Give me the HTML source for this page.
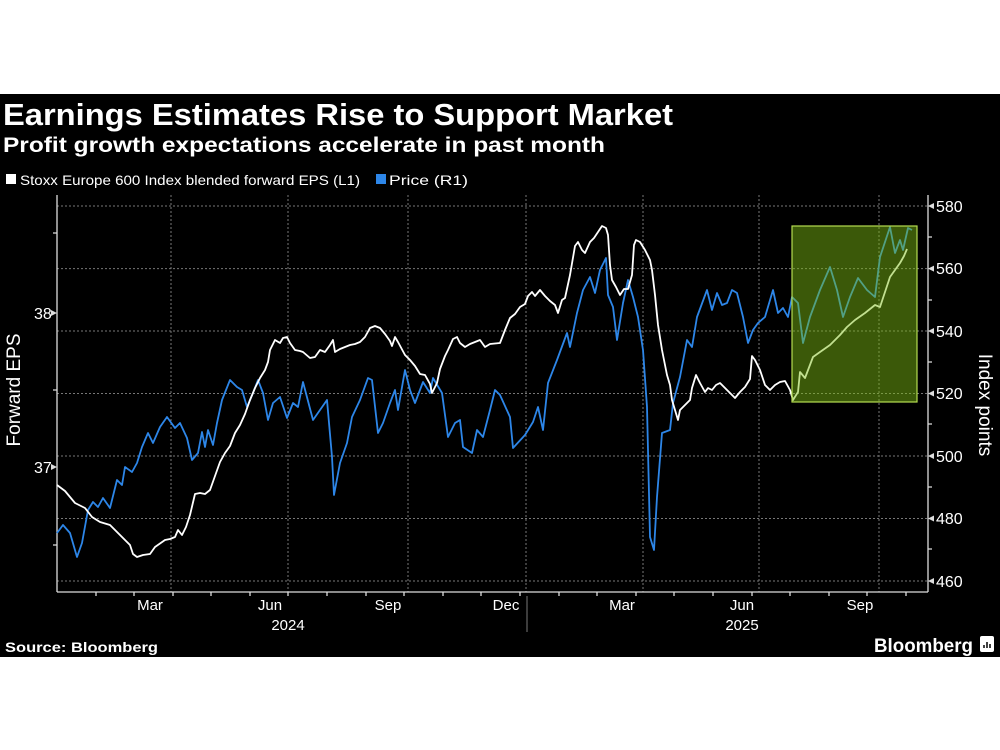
<!DOCTYPE html>
<html><head><meta charset="utf-8"><style>
html,body{margin:0;padding:0;background:#fff;width:1000px;height:750px;overflow:hidden}
svg{display:block;font-family:"Liberation Sans",sans-serif}
</style></head><body>
<svg width="1000" height="750" viewBox="0 0 1000 750" xmlns="http://www.w3.org/2000/svg">
<rect x="0" y="0" width="1000" height="750" fill="#fff"/>
<rect x="0" y="94" width="1000" height="563" fill="#000"/>
<text x="3" y="125" fill="#fff" font-size="31" font-weight="bold" textLength="670" lengthAdjust="spacingAndGlyphs">Earnings Estimates Rise to Support Market</text>
<text x="3" y="152" fill="#fff" font-size="21" font-weight="bold" textLength="602" lengthAdjust="spacingAndGlyphs">Profit growth expectations accelerate in past month</text>
<rect x="6" y="174" width="10" height="10" fill="#fff"/>
<text x="20" y="185" fill="#fff" font-size="14" textLength="340" lengthAdjust="spacingAndGlyphs">Stoxx Europe 600 Index blended forward EPS (L1)</text>
<rect x="376" y="174" width="10" height="10" fill="#2d86e8"/>
<text x="389" y="185" fill="#fff" font-size="14" textLength="79" lengthAdjust="spacingAndGlyphs">Price (R1)</text>
<g stroke="#777" stroke-width="1" stroke-dasharray="2,2">
<line x1="57" y1="206" x2="928" y2="206"/><line x1="57" y1="268.6" x2="928" y2="268.6"/><line x1="57" y1="331" x2="928" y2="331"/><line x1="57" y1="393.5" x2="928" y2="393.5"/><line x1="57" y1="456" x2="928" y2="456"/><line x1="57" y1="518.5" x2="928" y2="518.5"/><line x1="57" y1="581" x2="928" y2="581"/>
<line x1="171" y1="195" x2="171" y2="592"/><line x1="288" y1="195" x2="288" y2="592"/><line x1="408" y1="195" x2="408" y2="592"/><line x1="526" y1="195" x2="526" y2="592"/><line x1="643" y1="195" x2="643" y2="592"/><line x1="759" y1="195" x2="759" y2="592"/><line x1="879" y1="195" x2="879" y2="592"/>
</g>
<g stroke="#ddd" stroke-width="1.3" fill="none">
<line x1="57" y1="195" x2="57" y2="592"/><line x1="928" y1="195" x2="928" y2="592"/><line x1="57" y1="592" x2="928" y2="592"/>
<path d="M57 233h-4M57 390h-4M57 545h-4M928 237h4M928 300h4M928 362h4M928 424h4M928 487h4M928 549h4"/>
<path d="M96 592v4M134 592v4M173 592v4M211 592v4M250 592v4M288 592v4M327 592v4M366 592v4M404 592v4M443 592v4M481 592v4M520 592v4M559 592v4M597 592v4M636 592v4M674 592v4M713 592v4M752 592v4M790 592v4M829 592v4M867 592v4M906 592v4"/>
</g>
<path d="M57 313l-6 -3v6zM57 467l-6 -3v6z" fill="#ddd"/>
<path d="M928 206l6-3v6zM928 268.6l6-3v6zM928 331l6-3v6zM928 393.5l6-3v6zM928 456l6-3v6zM928 518.5l6-3v6zM928 581l6-3v6z" fill="#ddd"/>
<g fill="#fff" font-size="16">
<text x="34" y="319">38</text><text x="34" y="473">37</text>
<text x="936" y="212">580</text><text x="936" y="274">560</text><text x="936" y="337">540</text><text x="936" y="399">520</text><text x="936" y="462">500</text><text x="936" y="524">480</text><text x="936" y="587">460</text>
</g>
<g fill="#fff" font-size="15" text-anchor="middle">
<text x="150" y="610">Mar</text><text x="270" y="610">Jun</text><text x="388" y="610">Sep</text><text x="506" y="610">Dec</text><text x="622" y="610">Mar</text><text x="742" y="610">Jun</text><text x="860" y="610">Sep</text>
<text x="288" y="630">2024</text><text x="742" y="630">2025</text>
</g>
<line x1="527" y1="596" x2="527" y2="632" stroke="#777"/>
<text transform="translate(20,390) rotate(-90)" fill="#fff" font-size="19" text-anchor="middle">Forward EPS</text>
<text transform="translate(979,405) rotate(90)" fill="#fff" font-size="19" text-anchor="middle">Index points</text>
<polyline fill="none" stroke="#2d86e8" stroke-width="1.8" stroke-linejoin="round" points="57,533 63,525 70,533 77,557 82,543 88,510 93,502 98,507 103,498 110,508 117,480 122,485 125,467 132,472 137,463 142,447 148,433 153,443 160,427 167,417 175,428 180,423 187,438 192,460 198,453 202,432 205,447 208,430 213,445 217,423 222,400 230,380 237,387 242,390 247,407 253,393 258,380 263,393 268,420 273,403 280,397 287,418 293,403 298,407 303,382 313,420 320,410 327,400 332,457 334,495 340,463 347,443 352,417 360,400 368,378 372,380 378,433 383,423 390,403 395,390 398,410 405,370 410,390 415,403 423,382 430,393 433,378 442,393 448,437 455,423 460,420 463,447 472,453 477,430 483,437 490,410 495,390 500,395 510,417 513,448 525,435 533,422 538,407 543,430 548,383 557,360 567,333 570,347 577,313 583,290 590,277 595,293 600,270 606,258 608,295 613,307 617,340 623,303 628,280 633,297 638,317 643,350 647,407 650,537 654,550 657,497 662,433 670,430 673,403 680,377 687,340 692,347 697,317 707,290 712,310 717,293 722,305 727,303 732,290 737,293 743,317 748,343 753,330 758,323 765,317 773,290 778,313 783,308 788,317 792,297 798,303 803,343 810,317 820,290 830,267 837,290 843,317 850,297 858,278 867,290 875,297 880,257 890,227 895,253 900,240 903,250 908,228 912,230"/>
<polyline fill="none" stroke="#fff" stroke-width="1.8" stroke-linejoin="round" points="57,485 65,491 75,503 85,508 92,517 100,522 110,525 120,535 130,545 133,554 137,557 143,555 150,554 155,547 165,540 170,539 175,537 178,530 182,535 186,527 190,515 195,494 200,493 205,494 210,490 215,476 220,462 225,453 230,446 235,433 240,425 245,414 250,400 255,388 260,378 265,370 268,362 270,350 275,340 280,343 283,338 287,337 290,343 295,350 300,351 303,352 310,358 315,357 320,350 325,352 330,345 333,340 335,352 340,349 350,345 355,344 360,342 365,337 370,328 375,326 380,328 385,334 390,341 392,346 395,337 398,342 405,355 410,360 415,366 420,374 425,375 430,384 432,393 437,383 440,369 445,356 448,350 453,339 457,337 460,343 465,347 470,344 475,342 480,340 485,347 490,344 500,343 505,330 510,318 515,314 520,307 525,304 528,296 532,292 535,296 540,290 545,296 550,301 555,305 558,313 562,300 565,298 570,275 575,246 578,242 582,250 585,253 590,242 594,238 598,232 602,226 606,228 608,235 610,265 612,280 616,287 620,295 624,289 628,289 632,275 634,245 636,240 640,242 645,250 650,260 652,270 655,295 658,325 662,350 667,375 670,385 672,400 675,410 678,420 680,410 685,405 690,400 692,388 696,375 700,383 705,392 708,388 712,390 716,385 720,383 725,388 730,393 735,398 740,392 745,387 750,379 752,356 755,360 760,370 765,385 770,390 775,385 780,382 785,381 790,390 793,400 798,392 800,372 805,378 813,357 820,352 830,345 840,335 847,327 855,320 865,313 875,305 880,307 885,292 890,277 895,270 900,263 904,256 907,249"/>
<rect x="792" y="226" width="125" height="176" fill="rgba(125,190,20,0.47)" stroke="#b5dc50" stroke-width="1.2"/>
<text x="5" y="652" fill="#fff" font-size="14" font-weight="bold" textLength="153" lengthAdjust="spacingAndGlyphs">Source: Bloomberg</text>
<text x="874" y="652" fill="#fff" font-size="19" font-weight="bold" textLength="99" lengthAdjust="spacingAndGlyphs">Bloomberg</text>
<rect x="980" y="636" width="14" height="16" rx="2" fill="#fff"/>
<path d="M984 648v-3M987 648v-6M990 648v-4" stroke="#000" stroke-width="1.5"/>
</svg>
</body></html>
